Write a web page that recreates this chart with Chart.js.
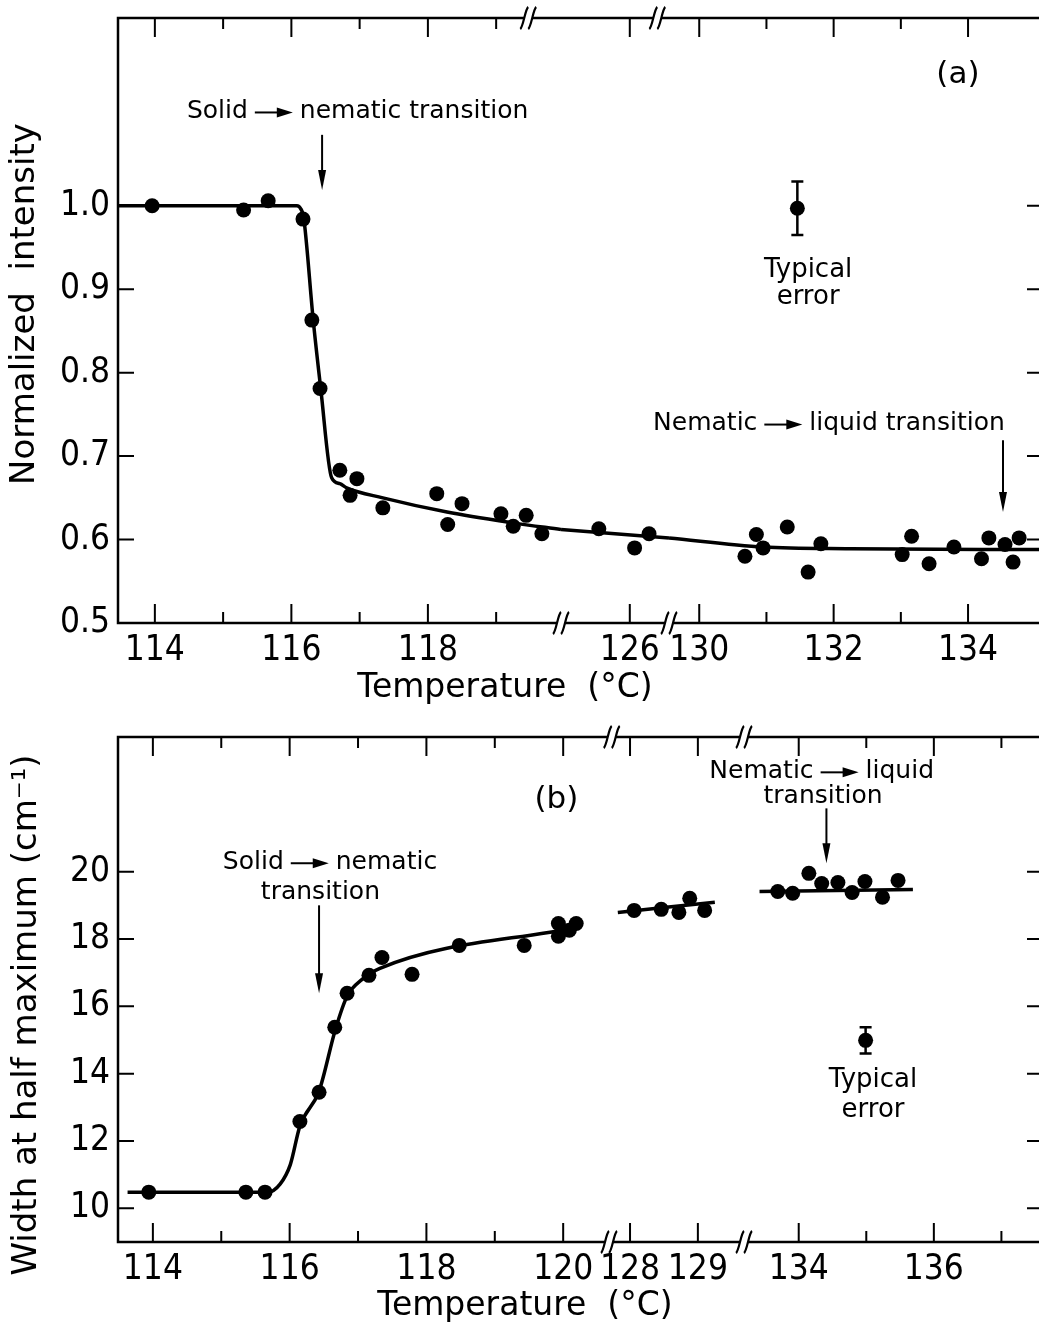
<!DOCTYPE html>
<html>
<head>
<meta charset="utf-8">
<title>Normalized intensity and line width versus temperature</title>
<script src="https://cdn.jsdelivr.net/npm/chart.js@4.4.1/dist/chart.umd.min.js"></script>
<style>
  html, body { margin: 0; padding: 0; background: #fff; overflow: hidden; }
  .panel { position: absolute; left: 0; }
  #panelA { top: 0; }
  #panelB { top: 715px; }
</style>
</head>
<body>
<div class="panel" id="panelA"><canvas id="chartA" width="1060" height="715"></canvas></div>
<div class="panel" id="panelB"><canvas id="chartB" width="1060" height="612"></canvas></div>
<script>
// ── DATA: panel (a) normalized intensity ─────────────────────────
const aTemp = [113.96, 115.30, 115.66, 116.17, 116.30, 116.42, 116.71, 116.96, 116.86, 117.34,
               118.13, 118.29, 118.50, 119.07, 119.25, 119.44, 119.67,
               125.55, 126.07, 126.28,
               130.68, 130.85, 130.95, 131.31, 131.62, 131.81, 133.02, 133.16, 133.42, 133.79,
               134.20, 134.31, 134.55, 134.67, 134.76];
const aIntensity = [1.000, 0.995, 1.006, 0.984, 0.863, 0.781, 0.683, 0.673, 0.653, 0.638,
                    0.655, 0.618, 0.643, 0.631, 0.616, 0.629, 0.607,
                    0.613, 0.590, 0.607,
                    0.580, 0.606, 0.590, 0.615, 0.561, 0.595, 0.582, 0.604, 0.571, 0.591,
                    0.577, 0.602, 0.594, 0.573, 0.602];
const aFitTemp = [113.46, 116.08, 116.14, 116.18, 116.32, 116.43, 116.59, 116.71, 116.81, 117.34,
                  118.28, 119.25, 119.95, 125.00, 126.57, 129.55, 130.95, 132.24, 135.16];
const aFitIntensity = [1.000, 1.000, 0.996, 0.986, 0.863, 0.781, 0.674, 0.667, 0.662, 0.650,
                       0.633, 0.620, 0.612, 0.612, 0.602, 0.602, 0.591, 0.589, 0.588];
const aErrorPoint = [131.46, 0.997, 0.032];           // temperature, value, +/- error
const aSegMin = [113.46, 125.00, 129.55];
const aSegMax = [119.95, 126.57, 135.16];
const aTickLabels = [[114, 116, 118], [126], [130, 132, 134]];
const aMinorTicks = [[115, 117, 119], [], [131, 133]];
const aYLabels = [0.5, 0.6, 0.7, 0.8, 0.9, 1.0];

// ── DATA: panel (b) width at half maximum ────────────────────────
const bTemp = [113.94, 115.36, 115.64, 116.15, 116.43, 116.66, 116.84, 117.16, 117.35, 117.79,
               118.48, 119.43, 119.93, 119.93, 120.09, 120.19,
               128.06, 128.46, 128.72, 128.88, 129.10,
               133.69, 133.91, 134.15, 134.34, 134.58, 134.79, 134.98, 135.24, 135.47];
const bWidth = [10.48, 10.48, 10.48, 12.58, 13.45, 15.38, 16.39, 16.92, 17.45, 16.95,
                17.81, 17.81, 18.46, 18.08, 18.26, 18.46,
                18.85, 18.88, 18.79, 19.21, 18.85,
                19.41, 19.36, 19.95, 19.65, 19.68, 19.38, 19.71, 19.24, 19.74];
const bFitTemp = [113.63, 115.68, 115.86, 116.01, 116.15, 116.43, 116.67, 116.84, 117.06, 117.32,
                  120.21, 127.82, 129.25, 133.42, 135.69];
const bFitWidth = [10.48, 10.48, 10.72, 11.30, 12.44, 13.48, 15.32, 16.30, 16.80, 17.13,
                   18.35, 18.79, 19.09, 19.41, 19.47];
const bErrorPoint = [134.99, 14.99, 0.39];
const bSegMin = [113.49, 127.69, 133.19];
const bSegMax = [120.67, 129.68, 137.66];
const bTickLabels = [[114, 116, 118, 120], [128, 129], [134, 136]];
const bMinorTicks = [[115, 117, 119], [], [135, 137]];
const bYLabels = [10, 12, 14, 16, 18, 20];

// ── STYLE ────────────────────────────────────────────────────────
Chart.defaults.font.family = "'DejaVu Sans', sans-serif";
Chart.defaults.color = '#000';
const NUM_FONT  = "'Liberation Sans Narrow', 'DejaVu Sans Condensed', 'Liberation Sans', sans-serif";
const TEXT_FONT = "'DejaVu Sans', 'Liberation Sans', sans-serif";
const TICK_FONT = { family: NUM_FONT, size: 35 };

// ── LAYOUT (pixels, per panel) ───────────────────────────────────
const layoutA = {
    padTop: 18, axisH: 92, yAxisW: 118, weights: [443, 108, 377],
    yMin: 0.5, yMax: 1.225, yFmt: v => v.toFixed(1),
    topBreaks: [[0, 119.47], [1, 126.40]],
    xTitle: [505, 688], yTitle: [25, 304, 'Normalized  intensity'],
    arrowTexts: [[0, 116.97, 1.113, 'Solid', 'nematic transition'],
                 [2, 131.93, 0.739, 'Nematic', 'liquid transition']],
    texts: [[2, 133.85, 1.157, '(a)', 31], [2, 131.62, 0.923, 'Typical', 26], [2, 131.62, 0.890, 'error', 26]],
    arrows: [[0, 116.45, 1.085, 1.019], [2, 134.52, 0.719, 0.633]],
    errSeg: 2
};
const layoutB = {
    padTop: 22, axisH: 85, yAxisW: 118, weights: [491, 135, 302],
    yMin: 9, yMax: 24, yFmt: v => String(v),
    topBreaks: [[1, 127.73], [2, 133.19]],
    xTitle: [525, 591], yTitle: [27, 300, 'Width at half maximum (cm\u207B\u00B9)'],
    arrowTexts: [[0, 116.59, 20.28, 'Solid', 'nematic'],
                 [2, 134.34, 22.98, 'Nematic', 'liquid']],
    texts: [[0, 119.90, 22.12, '(b)', 31], [0, 116.45, 19.39, 'transition', 25],
            [2, 134.36, 22.24, 'transition', 25],
            [2, 135.10, 13.80, 'Typical', 26], [2, 135.10, 12.91, 'error', 26]],
    arrows: [[0, 116.43, 19.0, 16.39], [2, 134.41, 21.88, 20.25]],
    errSeg: 2
};

// ── DRAWING HELPERS ──────────────────────────────────────────────
function breakMark(ctx, x, y) {
    ctx.save();
    ctx.fillStyle = '#fff';
    ctx.fillRect(x - 4, y - 3, 8, 6);
    ctx.strokeStyle = '#000';
    ctx.lineWidth = 2.2;
    [-4, 4].forEach(dx => {
        ctx.beginPath();
        ctx.moveTo(x + dx - 4, y + 11);
        ctx.bezierCurveTo(x + dx - 1, y + 9, x + dx + 1, y - 9, x + dx + 4, y - 11);
        ctx.stroke();
    });
    ctx.restore();
}

function downArrow(ctx, x, yTop, yTip) {
    ctx.lineWidth = 2;
    ctx.beginPath();
    ctx.moveTo(x, yTop);
    ctx.lineTo(x, yTip - 14);
    ctx.stroke();
    ctx.beginPath();
    ctx.moveTo(x - 4, yTip - 20);
    ctx.lineTo(x + 4, yTip - 20);
    ctx.lineTo(x, yTip);
    ctx.closePath();
    ctx.fill();
}

function arrowText(ctx, cx, cy, left, right) {
    ctx.font = '25px ' + TEXT_FONT;
    const wl = ctx.measureText(left).width;
    const wr = ctx.measureText(right).width;
    const len = 38, gap = 7;
    let x = cx - (wl + wr + len + 2 * gap) / 2;
    ctx.textAlign = 'left';
    ctx.textBaseline = 'middle';
    ctx.fillText(left, x, cy);
    x += wl + gap;
    const ya = cy + 1;
    ctx.lineWidth = 2;
    ctx.beginPath();
    ctx.moveTo(x, ya);
    ctx.lineTo(x + len - 12, ya);
    ctx.stroke();
    ctx.beginPath();
    ctx.moveTo(x + len - 16, ya - 5);
    ctx.lineTo(x + len, ya);
    ctx.lineTo(x + len - 16, ya + 5);
    ctx.closePath();
    ctx.fill();
    x += len + gap;
    ctx.fillText(right, x, cy);
}

// ── DECOR PLUGIN: frame, inward ticks, breaks, error bar, notes ──
function makeDecor(p) {
    return {
        id: 'decor',
        afterDatasetsDraw(chart) {
            const ctx = chart.ctx, ca = chart.chartArea, ys = chart.scales.y;
            const sx = i => chart.scales['x' + i];
            ctx.save();
            ctx.strokeStyle = '#000';
            ctx.fillStyle = '#000';

            // frame
            ctx.lineWidth = 2.5;
            ctx.strokeRect(ca.left, ca.top, ca.right - ca.left, ca.bottom - ca.top);

            // x ticks, bottom and top, pointing inward
            ctx.lineWidth = 2;
            p.segMin.forEach((lo, i) => {
                const sc = sx(i);
                const mark = (v, len) => {
                    const x = sc.getPixelForValue(v);
                    ctx.beginPath();
                    ctx.moveTo(x, ca.bottom); ctx.lineTo(x, ca.bottom - len);
                    ctx.moveTo(x, ca.top); ctx.lineTo(x, ca.top + len);
                    ctx.stroke();
                };
                p.labels[i].forEach(v => mark(v, 19));
                p.minor[i].forEach(v => mark(v, 11));
            });

            // y ticks, left and right
            p.yLabels.forEach(v => {
                const y = ys.getPixelForValue(v);
                ctx.beginPath();
                ctx.moveTo(ca.left, y); ctx.lineTo(ca.left + 16, y);
                ctx.moveTo(ca.right, y); ctx.lineTo(ca.right - 19, y);
                ctx.stroke();
            });

            // axis breaks
            for (let i = 1; i < p.segMin.length; i++) {
                breakMark(ctx, sx(i).left, ca.bottom);
            }
            p.topBreaks.forEach(([i, v]) => breakMark(ctx, sx(i).getPixelForValue(v), ca.top));

            // typical error bar
            const [et, ev, ee] = p.err;
            const ex = sx(p.errSeg).getPixelForValue(et);
            const eTop = ys.getPixelForValue(ev + ee), eBot = ys.getPixelForValue(ev - ee);
            ctx.lineWidth = 2.5;
            ctx.beginPath();
            ctx.moveTo(ex, eTop); ctx.lineTo(ex, eBot);
            ctx.moveTo(ex - 6, eTop); ctx.lineTo(ex + 6, eTop);
            ctx.moveTo(ex - 6, eBot); ctx.lineTo(ex + 6, eBot);
            ctx.stroke();

            // annotations
            p.arrowTexts.forEach(([i, t, v, l, r]) =>
                arrowText(ctx, sx(i).getPixelForValue(t), ys.getPixelForValue(v), l, r));
            ctx.textAlign = 'center';
            ctx.textBaseline = 'middle';
            p.texts.forEach(([i, t, v, s, size]) => {
                ctx.font = size + 'px ' + TEXT_FONT;
                ctx.fillText(s, sx(i).getPixelForValue(t), ys.getPixelForValue(v));
            });
            p.arrows.forEach(([i, t, v1, v2]) => {
                const x = sx(i).getPixelForValue(t);
                downArrow(ctx, x, ys.getPixelForValue(v1), ys.getPixelForValue(v2));
            });

            // axis titles
            ctx.font = '33px ' + TEXT_FONT;
            ctx.fillText('Temperature  (\u00B0C)', p.xTitle[0], p.xTitle[1]);
            ctx.save();
            ctx.translate(p.yTitle[0], p.yTitle[1]);
            ctx.rotate(-Math.PI / 2);
            ctx.font = '34px ' + TEXT_FONT;
            ctx.fillText(p.yTitle[2], 0, 0);
            ctx.restore();

            ctx.restore();
        }
    };
}

// ── BUILD ONE PANEL ──────────────────────────────────────────────
function buildPanel(canvasId, p) {
    const datasets = [];
    const scales = {
        y: {
            type: 'linear', position: 'left', min: p.yMin, max: p.yMax,
            grid: { display: false, drawTicks: false }, border: { display: false },
            ticks: { font: TICK_FONT, padding: 8, callback: v => p.yFmt(v) },
            afterBuildTicks: sc => { sc.ticks = p.yLabels.map(v => ({ value: v })); },
            afterFit: sc => { sc.width = p.yAxisW; sc.paddingTop = 0; sc.paddingBottom = 0; }
        }
    };

    p.segMin.forEach((lo, i) => {
        const hi = p.segMax[i];
        const inSeg = d => d.x >= lo && d.x <= hi;
        const fit = p.fitT.map((t, k) => ({ x: t, y: p.fitV[k] })).filter(inSeg);
        const pts = p.temp.map((t, k) => ({ x: t, y: p.vals[k] })).filter(inSeg);
        datasets.push({
            data: fit, xAxisID: 'x' + i, yAxisID: 'y', showLine: true,
            borderColor: '#000', borderWidth: 3.5, pointRadius: 0,
            cubicInterpolationMode: 'monotone', fill: false
        });
        datasets.push({
            data: pts, xAxisID: 'x' + i, yAxisID: 'y', showLine: false,
            pointRadius: 7.5, pointBackgroundColor: '#000', pointBorderWidth: 0
        });
        scales['x' + i] = {
            type: 'linear', axis: 'x', position: 'bottom',
            stack: 'temperature', stackWeight: p.weights[i],
            min: lo, max: hi,
            grid: { display: false, drawTicks: false }, border: { display: false },
            ticks: { font: TICK_FONT, padding: 7, autoSkip: false, maxRotation: 0, callback: v => String(v) },
            afterBuildTicks: sc => { sc.ticks = p.labels[i].map(v => ({ value: v })); },
            afterFit: sc => { sc.height = p.axisH; sc.paddingLeft = 0; sc.paddingRight = 0; }
        };
    });

    // typical error point
    datasets.push({
        data: [{ x: p.err[0], y: p.err[1] }], xAxisID: 'x' + p.errSeg, yAxisID: 'y',
        pointRadius: 7.5, pointBackgroundColor: '#000', pointBorderWidth: 0
    });

    return new Chart(document.getElementById(canvasId), {
        type: 'scatter',
        data: { datasets },
        options: {
            responsive: false,
            animation: false,
            layout: { padding: { top: p.padTop, right: 14, left: 0, bottom: 0 } },
            plugins: { legend: { display: false }, tooltip: { enabled: false }, title: { display: false } },
            scales
        },
        plugins: [makeDecor(p)]
    });
}

buildPanel('chartA', Object.assign({}, layoutA, {
    temp: aTemp, vals: aIntensity, fitT: aFitTemp, fitV: aFitIntensity, err: aErrorPoint,
    segMin: aSegMin, segMax: aSegMax, labels: aTickLabels, minor: aMinorTicks, yLabels: aYLabels
}));
buildPanel('chartB', Object.assign({}, layoutB, {
    temp: bTemp, vals: bWidth, fitT: bFitTemp, fitV: bFitWidth, err: bErrorPoint,
    segMin: bSegMin, segMax: bSegMax, labels: bTickLabels, minor: bMinorTicks, yLabels: bYLabels
}));
</script>
</body>
</html>
